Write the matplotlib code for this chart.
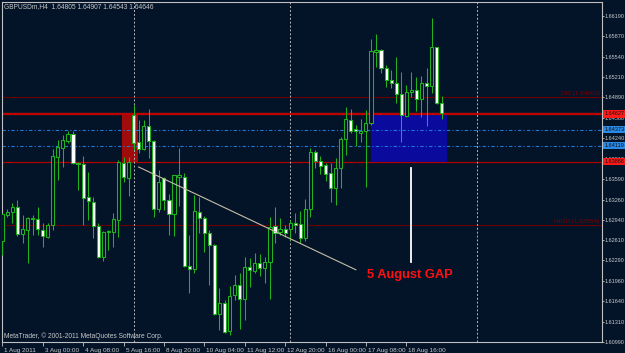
import matplotlib
matplotlib.use('Agg')
import matplotlib.pyplot as plt
import matplotlib.transforms as mtransforms
from matplotlib.patches import Rectangle

# GBPUSDm H4 bars, 1 Aug - 19 Aug 2011
opens = [1.62604, 1.63019, 1.63067, 1.63137, 1.62711, 1.62775, 1.62971, 1.62945, 1.62775, 1.62668,
         1.62854, 1.63944, 1.64088, 1.64199, 1.64306, 1.63848, 1.63828, 1.63296, 1.63226, 1.62833,
         1.62348, 1.62763, 1.62747, 1.62934, 1.63839, 1.63599, 1.64610, 1.64179, 1.64072, 1.64434,
         1.64199, 1.63105, 1.63599, 1.63253, 1.63030, 1.63625, 1.63625, 1.62200, 1.62157, 1.63067,
         1.62961, 1.62731, 1.62535, 1.61429, 1.61614, 1.61167, 1.61737, 1.61896, 1.61673, 1.62189,
         1.62125, 1.62252, 1.62163, 1.62259, 1.62838, 1.62747, 1.62786, 1.62786, 1.62891, 1.62865,
         1.62642, 1.63105, 1.64015, 1.63876, 1.63817, 1.63679, 1.63440, 1.63759, 1.64222, 1.64530,
         1.64386, 1.64318, 1.64354, 1.64477, 1.65620, 1.65647, 1.65355, 1.65168, 1.65125, 1.64945,
         1.64598, 1.64982, 1.65009, 1.64860, 1.65125, 1.65072, 1.65690, 1.64805]
highs = [1.63046, 1.63105, 1.63210, 1.63253, 1.63014, 1.62987, 1.63014, 1.63137, 1.62882, 1.62882,
         1.64067, 1.64211, 1.64290, 1.64359, 1.64359, 1.63864, 1.63955, 1.63705, 1.63306, 1.62882,
         1.62763, 1.62775, 1.63041, 1.63891, 1.63944, 1.63935, 1.64769, 1.64530, 1.64530, 1.64701,
         1.64211, 1.63732, 1.63625, 1.63349, 1.63647, 1.64078, 1.63679, 1.62695, 1.63333, 1.63306,
         1.62998, 1.62775, 1.62545, 1.61844, 1.61657, 1.61880, 1.62056, 1.62083, 1.62348, 1.62323,
         1.62412, 1.62391, 1.62348, 1.62987, 1.63137, 1.62961, 1.62854, 1.62934, 1.63041, 1.63077,
         1.63269, 1.64088, 1.64051, 1.63955, 1.63839, 1.63839, 1.63919, 1.64263, 1.64742, 1.64701,
         1.64450, 1.64541, 1.64689, 1.65818, 1.65902, 1.65655, 1.65408, 1.65328, 1.65540, 1.65301,
         1.65088, 1.65301, 1.65221, 1.65232, 1.65355, 1.66153, 1.65700, 1.64907]
lows = [1.62376, 1.62987, 1.62882, 1.62679, 1.62562, 1.62243, 1.62695, 1.62695, 1.62508, 1.62642,
        1.62775, 1.63572, 1.63785, 1.64158, 1.63835, 1.63413, 1.62854, 1.62934, 1.62642, 1.62327,
        1.62284, 1.62455, 1.62508, 1.62668, 1.63545, 1.63317, 1.64051, 1.63998, 1.64051, 1.63919,
        1.62977, 1.63067, 1.63093, 1.62695, 1.62679, 1.63157, 1.62189, 1.61764, 1.62083, 1.62731,
        1.62428, 1.61896, 1.61418, 1.61178, 1.61126, 1.61098, 1.61657, 1.61189, 1.61338, 1.61869,
        1.62083, 1.62040, 1.61933, 1.61673, 1.62562, 1.62695, 1.62668, 1.62615, 1.62722, 1.62562,
        1.62604, 1.62977, 1.63759, 1.63668, 1.63556, 1.63226, 1.63173, 1.63440, 1.63971, 1.64318,
        1.64115, 1.64184, 1.63465, 1.64450, 1.65371, 1.65285, 1.65061, 1.65036, 1.64796, 1.64184,
        1.64583, 1.64902, 1.64674, 1.64573, 1.64434, 1.64956, 1.64785, 1.64543]
closes = [1.63025, 1.63062, 1.63137, 1.62711, 1.62786, 1.62961, 1.62945, 1.62786, 1.62679, 1.62859,
          1.63955, 1.64099, 1.64206, 1.64306, 1.63839, 1.63828, 1.63280, 1.63232, 1.62843, 1.62348,
          1.62747, 1.62742, 1.62945, 1.63860, 1.63615, 1.63860, 1.64158, 1.64062, 1.64434, 1.64199,
          1.63105, 1.63540, 1.63253, 1.63030, 1.63647, 1.63647, 1.62200, 1.62157, 1.63077, 1.62961,
          1.62731, 1.62535, 1.61429, 1.61604, 1.61151, 1.61726, 1.61896, 1.61673, 1.62189, 1.62136,
          1.62252, 1.62163, 1.62268, 1.62827, 1.62731, 1.62786, 1.62731, 1.62891, 1.62854, 1.62642,
          1.63105, 1.64015, 1.63876, 1.63796, 1.63668, 1.63440, 1.63759, 1.64222, 1.64541, 1.64359,
          1.64354, 1.64354, 1.64487, 1.65636, 1.65647, 1.65355, 1.65168, 1.65125, 1.64945, 1.64610,
          1.64982, 1.65009, 1.64860, 1.65125, 1.65072, 1.65690, 1.64796, 1.64646]

time_ticks = [0, 8, 16, 24, 32, 40, 48, 56, 64, 72, 80]
time_labels = ['1 Aug 2011', '3 Aug 00:00', '4 Aug 08:00', '5 Aug 16:00', '8 Aug 20:00',
               '10 Aug 04:00', '11 Aug 12:00', '12 Aug 20:00', '16 Aug 00:00',
               '17 Aug 08:00', '18 Aug 16:00']
price_labels = ['1.66190', '1.65870', '1.65540', '1.65210', '1.64890', '1.64560', '1.64240',
                '1.63910', '1.63590', '1.63260', '1.62940', '1.62610', '1.62290', '1.61960',
                '1.61640', '1.61310', '1.60990']
week_separators = [26, 57, 94]

gap_top = 1.64627
gap_bottom = 1.63866
gap_levels = [1.64373, 1.64119]
bid_price = 1.64646
fib_100 = 1.64902
high_level = 1.62854
trend_x = [27, 70]
trend_y = [1.6378, 1.6214]
marker_x = 81
marker_y = [1.63759, 1.62268]

bg = '#031429'
green = '#1fb41f'
fg = '#c8c8c8'

plt.rcParams['font.family'] = ['Liberation Sans', 'DejaVu Sans']

fig = plt.figure(figsize=(6.25, 3.53), dpi=100, facecolor=bg)
ax = fig.add_axes([2 / 625, 1 - 342 / 353, 600 / 625, 340 / 353], facecolor=bg)
ax.set_xlim(-0.06, 118.75)
ax.set_ylim(1.60987, 1.66413)

# gap boxes
ax.add_patch(Rectangle((23.8, gap_bottom), 3.1, gap_top - gap_bottom,
                       facecolor='#a00c0c', edgecolor='none', zorder=1))
ax.add_patch(Rectangle((72.95, gap_bottom), 15.05, gap_top - gap_bottom,
                       facecolor='#0a0a9c', edgecolor='none', zorder=1))

# horizontal levels
ax.axhline(fib_100, color='#6a0000', lw=0.8, zorder=1)
ax.axhline(high_level, color='#6a0000', lw=0.8, zorder=1)
ax.axhline(bid_price, color='#8c8c8c', lw=0.8, zorder=1)
ax.axhline(gap_top, color='#c00000', lw=1.6, zorder=1)
ax.axhline(gap_bottom, color='#b00000', lw=0.9, zorder=1)
for lv in gap_levels:
    ax.axhline(lv, color='#1e78d8', lw=0.8, ls=(0, (3, 2, 1, 2)), zorder=1)

for sx in week_separators:
    ax.axvline(sx, color='#b8b8b8', lw=0.7, ls=(0, (2, 2)), zorder=1)

ax.text(118.3, fib_100 + 0.0001, '100 (1.64902)', color='#7a0000', fontsize=4.6,
        ha='right', va='bottom')
ax.text(118.3, high_level + 0.0001, 'HIGH (1.62854)', color='#7a0000', fontsize=4.6,
        ha='right', va='bottom')

# candles
xs = list(range(len(opens)))
ax.vlines(xs, lows, highs, color=green, lw=0.75, zorder=3)
for i in xs:
    o, c = opens[i], closes[i]
    bottom = min(o, c)
    h = max(abs(c - o), 0.00004)
    fc = 'white' if c < o else bg
    ax.bar(i, h, bottom=bottom, width=0.62, color=fc, edgecolor=green, lw=0.75, zorder=4)

# trend line and marker
ax.plot(trend_x, trend_y, color='#c8bca6', lw=0.8, zorder=5)
ax.plot([marker_x, marker_x], marker_y, color='white', lw=1.3, zorder=5)
ax.text(72.3, 1.6206, '5 August GAP', color='#ff1010', fontsize=9.3, fontweight='bold',
        ha='left', va='center', zorder=6)

# axes styling
for s in ax.spines.values():
    s.set_color('#c0c0c0')
    s.set_linewidth(0.8)

ax.yaxis.tick_right()
ax.set_yticks([float(p) for p in price_labels], price_labels)
ax.tick_params(axis='y', colors=fg, labelsize=4.0, length=1.5, width=0.6, pad=0.6)
ax.set_xticks(time_ticks, time_labels)
ax.tick_params(axis='x', colors=fg, labelsize=4.6, length=3, width=0.6, pad=1)
offset = mtransforms.ScaledTranslation(2 / 100, 0, fig.dpi_scale_trans)
for lab in ax.get_xticklabels():
    lab.set_ha('left')
    lab.set_transform(lab.get_transform() + offset)

# price tags on the right scale
tr = mtransforms.blended_transform_factory(ax.transAxes, ax.transData)
tags = [(gap_top, '#ff1a1a'), (gap_levels[0], '#2a8ae8'),
        (gap_levels[1], '#2a8ae8'), (gap_bottom, '#ff1a1a')]
for val, col in tags:
    ax.text(1.0035, val, '%.5f' % val, transform=tr, color='#101010', fontsize=4.0,
            ha='left', va='center', clip_on=False, zorder=7,
            bbox=dict(boxstyle='square,pad=0.2', fc=col, ec='none'))

fig.text(4 / 625, 1 - 7 / 353, 'GBPUSDm,H4  1.64805 1.64907 1.64543 1.64646',
         color=fg, fontsize=4.8, ha='left', va='center')
fig.text(4 / 625, 1 - 336 / 353, 'MetaTrader, \u00a9 2001-2011 MetaQuotes Software Corp.',
         color=fg, fontsize=4.8, ha='left', va='center')

fig.savefig('out.png', dpi=100, facecolor=bg)
